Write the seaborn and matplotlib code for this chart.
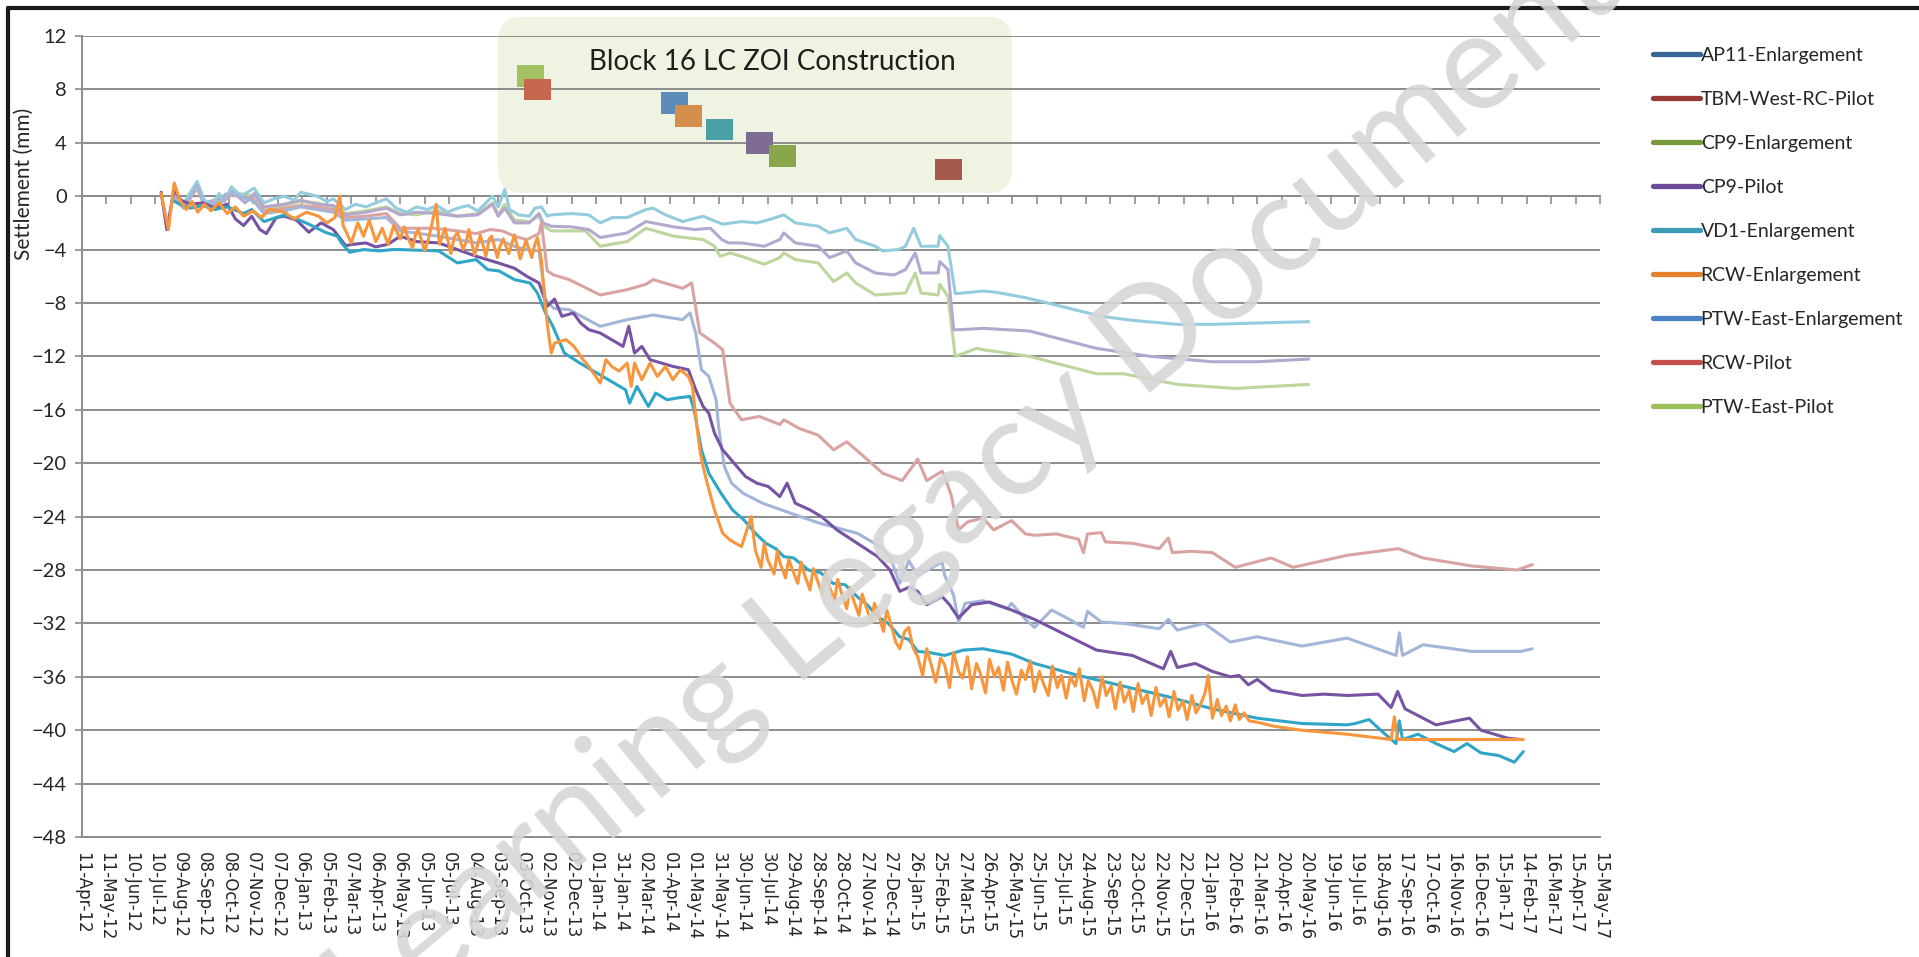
import matplotlib
matplotlib.use("Agg")
import matplotlib.pyplot as plt
import matplotlib.dates as mdates
from matplotlib.lines import Line2D
from matplotlib.patches import FancyBboxPatch
import pandas as pd
import seaborn as sns

# first and last date of the chart's date axis
AXIS_START = pd.Timestamp("2012-04-11")
AXIS_END = pd.Timestamp("2017-05-15")

# survey readings: (days after 11-Apr-12, settlement in mm)
lt_cyan = [(113, 0.2), (125, -0.5), (141, 1.1), (150, -0.3), (160, -0.6), (168, 0.2), (175, -0.4), (183, 0.7),
           (195, 0.0), (211, 0.6), (223, -0.5), (235, -0.2), (248, 0.0), (260, -0.3), (268, 0.3), (288, 0.0),
           (300, -0.4), (308, -0.2), (323, -1.0), (335, -0.6), (348, -0.8), (360, -0.5), (373, -0.2), (385, -0.9),
           (398, -1.2), (410, -0.8), (423, -1.0), (435, -0.7), (448, -1.2), (460, -0.9), (473, -0.7), (485, -1.1),
           (495, -0.5), (503, 0.0), (510, -0.8), (518, 0.5), (524, -1.0), (535, -1.4), (548, -1.5), (555, -0.9),
           (563, -0.8), (570, -1.5), (575, -1.4), (600, -1.3), (621, -1.4), (635, -2.0), (650, -1.6), (668, -1.6),
           (691, -1.0), (700, -0.9), (715, -1.4), (736, -1.9), (761, -1.5), (785, -2.1), (808, -1.9), (827, -2.0),
           (845, -1.7), (860, -1.4), (874, -2.0), (902, -2.25), (916, -2.75), (937, -2.4), (948, -3.25), (972, -3.75),
           (981, -4.1), (1000, -4.0), (1009, -3.75), (1019, -2.4), (1028, -3.75), (1049, -3.75), (1051, -2.95),
           (1061, -3.75), (1070, -7.3), (1089, -7.2), (1104, -7.1), (1120, -7.2), (1156, -7.6), (1183, -8.0),
           (1249, -9.0), (1287, -9.3), (1342, -9.6), (1385, -9.6), (1440, -9.5), (1503, -9.4)]

lt_purple = [(113, 0.0), (125, -0.6), (141, 0.8), (150, -0.5), (168, -0.2), (183, 0.4), (200, -0.5), (211, 0.2),
             (223, -0.8), (248, -0.6), (268, -0.3), (288, -0.6), (308, -0.7), (323, -1.4), (348, -1.2), (373, -0.9),
             (390, -1.4), (410, -1.2), (435, -1.3), (460, -1.5), (485, -1.4), (503, -0.6), (510, -1.5), (518, -0.9),
             (530, -2.0), (548, -2.0), (560, -1.3), (565, -2.0), (575, -2.25), (600, -2.3), (621, -2.5), (635, -3.1),
             (668, -2.75), (691, -1.9), (725, -2.3), (751, -2.5), (770, -2.4), (784, -3.25), (792, -3.5), (808, -3.5),
             (836, -3.75), (855, -3.25), (860, -2.75), (874, -3.5), (902, -3.75), (916, -4.6), (937, -4.1),
             (948, -5.0), (972, -5.75), (995, -5.9), (1009, -5.5), (1021, -4.25), (1028, -5.75), (1049, -5.75),
             (1051, -4.9), (1061, -5.5), (1068, -10.0), (1076, -10.0), (1104, -9.9), (1161, -10.1), (1243, -11.4),
             (1309, -12.0), (1385, -12.4), (1440, -12.4), (1503, -12.2)]

lt_green = [(113, -0.1), (125, -0.8), (141, 0.7), (150, -0.6), (168, -0.4), (183, 0.3), (211, 0.0), (223, -0.9),
            (248, -0.7), (268, -0.4), (288, -0.5), (308, -0.8), (323, -1.3), (348, -1.1), (373, -0.8), (390, -1.3),
            (410, -1.4), (435, -1.1), (460, -1.5), (485, -1.3), (503, -0.5), (510, -1.4), (518, -0.6), (530, -1.8),
            (548, -1.9), (560, -1.5), (565, -2.2), (575, -2.6), (617, -2.6), (635, -3.75), (668, -3.4), (691, -2.4),
            (725, -3.0), (761, -3.25), (775, -3.75), (782, -4.5), (794, -4.25), (808, -4.5), (836, -5.1), (855, -4.6),
            (860, -4.25), (874, -4.75), (902, -5.0), (921, -6.4), (937, -5.75), (948, -6.5), (972, -7.4),
            (1009, -7.25), (1021, -5.75), (1028, -7.25), (1049, -7.4), (1051, -6.6), (1061, -7.5), (1070, -12.0),
            (1096, -11.4), (1104, -11.5), (1161, -12.0), (1243, -13.3), (1276, -13.3), (1342, -14.1), (1413, -14.4),
            (1503, -14.1)]

lt_red = [(113, -0.1), (125, -0.9), (141, 0.6), (150, -0.7), (168, -0.6), (183, 0.1), (211, -0.3), (223, -1.1),
          (248, -0.9), (268, -0.7), (288, -0.8), (308, -1.0), (323, -1.6), (348, -1.5), (373, -1.3), (390, -2.4),
          (430, -2.4), (460, -2.6), (483, -2.8), (500, -2.5), (515, -2.6), (530, -3.0), (545, -3.25), (560, -2.8),
          (563, -2.0), (567, -4.0), (570, -5.6), (578, -5.9), (597, -6.25), (635, -7.4), (668, -7.0), (691, -6.6),
          (700, -6.25), (736, -6.9), (747, -6.5), (757, -10.25), (775, -11.0), (785, -11.5), (794, -15.5),
          (808, -16.75), (830, -16.5), (855, -17.1), (860, -16.75), (879, -17.4), (902, -17.9), (921, -19.0),
          (937, -18.4), (958, -19.5), (981, -20.75), (1005, -21.3), (1024, -19.7), (1035, -21.3), (1054, -20.6),
          (1057, -21.0), (1065, -22.4), (1074, -25.0), (1085, -24.4), (1104, -24.1), (1117, -25.0), (1139, -24.3),
          (1156, -25.3), (1167, -25.4), (1194, -25.3), (1221, -25.7), (1227, -26.7), (1232, -25.3), (1249, -25.2),
          (1254, -25.9), (1287, -26.0), (1320, -26.4), (1331, -25.6), (1336, -26.7), (1358, -26.6), (1385, -26.7),
          (1413, -27.8), (1457, -27.1), (1484, -27.8), (1550, -26.9), (1613, -26.4), (1643, -27.1), (1703, -27.7),
          (1758, -28.0), (1777, -27.6)]

lt_blue = [(113, -0.2), (125, -0.9), (141, 0.8), (150, -0.6), (168, -0.5), (183, 0.2), (211, -0.4), (223, -1.3),
           (248, -1.1), (268, -0.8), (288, -1.0), (308, -1.2), (323, -1.8), (348, -1.7), (373, -1.6), (390, -2.6),
           (437, -3.0), (483, -3.5), (510, -3.25), (530, -3.75), (545, -4.0), (560, -4.1), (568, -7.75),
           (578, -8.4), (597, -8.5), (635, -9.75), (668, -9.25), (700, -8.9), (736, -9.25), (745, -8.75),
           (752, -10.25), (759, -13.0), (768, -13.5), (777, -15.25), (780, -17.25), (787, -20.25), (796, -21.5),
           (810, -22.25), (834, -23.0), (857, -23.5), (880, -24.0), (904, -24.5), (950, -25.25), (978, -26.25),
           (990, -27.0), (1002, -29.0), (1013, -27.3), (1024, -28.4), (1054, -27.4), (1057, -28.4), (1068, -29.9),
           (1074, -31.9), (1082, -30.5), (1104, -30.3), (1134, -30.9), (1139, -30.5), (1156, -31.7), (1167, -32.3),
           (1188, -31.0), (1210, -31.7), (1227, -32.3), (1232, -31.1), (1249, -31.9), (1276, -32.0), (1320, -32.4),
           (1331, -31.7), (1342, -32.5), (1375, -32.0), (1407, -33.4), (1440, -33.0), (1495, -33.7), (1550, -33.1),
           (1610, -34.4), (1614, -32.7), (1618, -34.4), (1643, -33.6), (1703, -34.1), (1763, -34.1), (1777, -33.9)]

cp9_pilot = [(97, 0.3), (104, -2.5), (113, 0.5), (121, -0.3), (133, -0.6), (148, -0.5), (163, -0.9), (178, -0.6),
             (188, -1.7), (198, -2.2), (208, -1.5), (218, -2.5), (226, -2.8), (238, -1.6), (248, -1.5), (263, -1.8),
             (278, -2.7), (293, -2.0), (308, -2.5), (323, -3.7), (333, -3.6), (348, -3.5), (360, -3.8), (375, -3.6),
             (390, -3.0), (410, -3.4), (437, -3.5), (460, -4.0), (483, -4.5), (510, -5.0), (530, -5.4), (545, -6.0),
             (560, -6.5), (570, -8.25), (579, -7.7), (588, -9.0), (602, -8.75), (611, -9.5), (621, -10.0),
             (635, -10.25), (649, -10.75), (663, -11.25), (670, -9.75), (677, -11.75), (686, -11.25), (696, -12.25),
             (710, -12.5), (724, -12.75), (743, -13.0), (752, -14.5), (761, -15.75), (768, -16.25), (775, -17.75),
             (785, -19.0), (799, -20.0), (813, -21.0), (827, -21.5), (841, -21.75), (855, -22.5), (864, -21.5),
             (874, -23.0), (892, -23.5), (906, -24.0), (925, -25.0), (950, -26.0), (975, -27.0), (990, -28.0),
             (1002, -29.6), (1013, -29.3), (1024, -29.6), (1035, -30.6), (1054, -30.0), (1063, -30.6), (1074, -31.6),
             (1090, -30.6), (1112, -30.4), (1139, -31.0), (1167, -31.7), (1243, -34.0), (1287, -34.4), (1325, -35.4),
             (1334, -34.1), (1342, -35.3), (1364, -35.0), (1385, -35.6), (1407, -36.0), (1418, -35.9), (1429, -36.6),
             (1440, -36.2), (1457, -37.0), (1495, -37.4), (1522, -37.3), (1550, -37.4), (1588, -37.3), (1604, -38.3),
             (1612, -37.1), (1621, -38.4), (1659, -39.6), (1700, -39.1), (1714, -40.0), (1747, -40.6), (1763, -40.7)]

vd1_enl = [(110, -0.3), (120, -0.6), (133, -0.9), (148, -0.7), (163, -1.0), (178, -0.8), (198, -1.3), (208, -1.0),
           (223, -1.9), (238, -1.6), (248, -1.4), (263, -1.7), (278, -2.1), (298, -2.7), (313, -3.0), (318, -3.5),
           (328, -4.2), (345, -4.0), (365, -4.1), (380, -4.0), (390, -4.0), (437, -4.1), (460, -5.0), (483, -4.75),
           (497, -5.5), (511, -5.6), (530, -6.25), (549, -6.5), (558, -7.25), (568, -8.75), (577, -9.75),
           (591, -11.75), (610, -12.5), (624, -13.0), (638, -13.5), (652, -14.0), (666, -14.5), (671, -15.5),
           (680, -14.25), (694, -15.75), (703, -14.75), (717, -15.25), (731, -15.1), (745, -15.0), (750, -16.0),
           (759, -19.0), (768, -20.75), (783, -22.25), (797, -23.5), (811, -24.25), (825, -25.25), (838, -26.0),
           (850, -26.4), (860, -27.0), (872, -27.1), (890, -28.0), (905, -28.2), (920, -29.0), (935, -29.1),
           (950, -30.0), (962, -30.6), (975, -31.5), (988, -32.0), (1002, -33.0), (1013, -33.2), (1024, -34.1),
           (1040, -34.2), (1057, -34.4), (1080, -34.0), (1104, -33.9), (1139, -34.3), (1167, -35.0), (1221, -35.9),
           (1276, -36.7), (1331, -37.5), (1385, -38.4), (1440, -39.1), (1495, -39.5), (1550, -39.6), (1560, -39.5),
           (1577, -39.2), (1593, -40.1), (1610, -41.0), (1614, -39.3), (1618, -40.7), (1637, -40.3), (1659, -41.0),
           (1681, -41.6), (1697, -41.0), (1714, -41.7), (1736, -41.9), (1755, -42.4), (1766, -41.6)]

rcw_enl = [(97, 0.2), (106, -2.5), (113, 1.0), (120, -0.3), (128, -1.0), (135, -0.4), (142, -1.2), (150, -0.6),
           (158, -1.1), (168, -0.5), (178, -1.3), (188, -0.8), (198, -1.5), (210, -1.1), (220, -1.6), (230, -1.0),
           (248, -1.2), (260, -1.7), (275, -1.2), (290, -1.5), (300, -2.0), (310, -1.6), (316, 0.0), (320, -2.2),
           (330, -3.5), (338, -2.0), (345, -3.0), (352, -1.8), (360, -3.4), (368, -2.4), (375, -3.6), (382, -2.2),
           (390, -3.2), (395, -2.3), (398, -2.9), (405, -3.9), (409, -2.8), (412, -2.5), (420, -4.1), (424, -3.3),
           (428, -2.3), (434, -0.6), (438, -3.6), (442, -2.9), (445, -2.4), (452, -4.3), (456, -3.1), (460, -2.7),
           (467, -4.0), (471, -3.4), (474, -2.5), (481, -4.4), (485, -3.6), (488, -2.9), (495, -4.5), (499, -3.2),
           (502, -3.0), (509, -4.6), (512, -3.8), (516, -3.2), (523, -4.3), (527, -3.5), (530, -2.9), (537, -4.7),
           (541, -3.9), (544, -3.3), (551, -4.6), (555, -3.6), (558, -3.1), (563, -4.8), (567, -7.75),
           (571, -10.0), (575, -11.75), (579, -11.0), (593, -10.75), (602, -11.2), (607, -11.6), (612, -12.1),
           (621, -12.75), (635, -14.0), (642, -12.25), (649, -12.75), (658, -13.1), (668, -12.5), (673, -14.25),
           (677, -12.5), (686, -13.75), (696, -12.5), (705, -13.5), (715, -12.75), (724, -13.75), (733, -13.0),
           (743, -13.5), (748, -14.25), (752, -16.5), (757, -19.0), (761, -20.25), (766, -21.5), (775, -23.5),
           (785, -25.25), (794, -25.75), (808, -26.25), (820, -24.0), (825, -26.5), (832, -27.8), (836, -26.0),
           (840, -27.2), (848, -28.3), (852, -26.6), (855, -27.4), (862, -28.6), (866, -27.2), (870, -27.9),
           (877, -29.0), (881, -27.4), (885, -28.3), (892, -29.5), (896, -27.9), (900, -28.6), (907, -29.8),
           (911, -28.2), (915, -29.1), (922, -30.3), (926, -28.7), (930, -29.6), (937, -30.9), (941, -29.3),
           (945, -30.2), (952, -31.4), (956, -29.8), (960, -30.6), (967, -31.9), (971, -30.5), (975, -31.2),
           (982, -32.6), (986, -31.0), (990, -31.8), (997, -33.4), (1002, -33.9), (1008, -32.6), (1013, -32.3),
           (1018, -33.8), (1024, -34.5), (1030, -35.9), (1035, -33.9), (1041, -35.2), (1046, -36.4), (1052, -34.6),
           (1057, -35.1), (1063, -36.8), (1068, -34.2), (1074, -35.6), (1079, -36.1), (1085, -34.5), (1090, -36.9),
           (1096, -35.0), (1101, -35.8), (1107, -37.2), (1112, -34.7), (1118, -36.0), (1123, -35.3), (1129, -37.0),
           (1134, -34.9), (1140, -36.4), (1145, -37.3), (1151, -35.5), (1156, -36.2), (1162, -34.8), (1167, -37.1),
           (1173, -35.6), (1178, -36.5), (1184, -37.4), (1189, -35.2), (1195, -36.8), (1200, -35.9), (1206, -37.6),
           (1211, -36.0), (1217, -36.7), (1222, -35.4), (1228, -37.8), (1233, -36.3), (1239, -37.1), (1244, -38.3),
           (1250, -36.0), (1255, -37.4), (1261, -36.7), (1266, -38.4), (1272, -36.4), (1277, -37.9), (1283, -37.0),
           (1288, -38.6), (1294, -36.5), (1299, -38.0), (1305, -37.3), (1310, -38.9), (1316, -36.8), (1321, -38.2),
           (1327, -37.6), (1332, -39.0), (1338, -37.1), (1343, -38.5), (1349, -37.8), (1354, -39.2), (1360, -37.4),
           (1365, -38.7), (1371, -38.0), (1376, -37.2), (1380, -35.9), (1385, -39.1), (1391, -37.7), (1396, -38.9),
           (1402, -38.2), (1407, -39.3), (1413, -38.1), (1418, -39.2), (1424, -38.7), (1430, -39.3), (1440, -39.4),
           (1460, -39.7), (1494, -40.0), (1550, -40.3), (1604, -40.7), (1608, -39.0), (1612, -40.7), (1660, -40.7),
           (1714, -40.7), (1766, -40.7)]

# plotted order (later ones on top) and their colours
plot_names = ["lt_green", "lt_purple", "lt_cyan", "lt_red", "lt_blue", "CP9-Pilot", "VD1-Enlargement", "RCW-Enlargement"]
plot_points = [lt_green, lt_purple, lt_cyan, lt_red, lt_blue, cp9_pilot, vd1_enl, rcw_enl]
plot_colors = ["#bcd69b", "#b5a8cf", "#93cddd", "#d9a3a1", "#a3b6da", "#7653a3", "#2fa6c7", "#f7963c"]

# construction start markers inside the annotation box
event_labels = ["PTW-East-Pilot", "RCW-Pilot", "PTW-East-Enlargement", "RCW-Enlargement",
                "VD1-Enlargement", "CP9-Pilot", "CP9-Enlargement", "TBM-West-RC-Pilot"]
event_dates = ["2013-10-13", "2013-10-21", "2014-04-07", "2014-04-24",
               "2014-06-01", "2014-07-20", "2014-08-17", "2015-03-09"]
event_levels = [9, 8, 7, 6, 5, 4, 3, 2]
event_colors = ["#a2c160", "#c6664f", "#5b8cba", "#d58f4a", "#4b9fa6", "#7d6b91", "#89a64d", "#a35b4c"]

# legend entries
legend_labels = ["AP11-Enlargement", "TBM-West-RC-Pilot", "CP9-Enlargement", "CP9-Pilot", "VD1-Enlargement",
                 "RCW-Enlargement", "PTW-East-Enlargement", "RCW-Pilot", "PTW-East-Pilot"]
legend_colors = ["#386496", "#963a38", "#779a3c", "#6a4b96", "#3a9cb6", "#e5812d", "#4a83c4", "#c4504c", "#9bbf59"]

rows = []
for name, pts in zip(plot_names, plot_points):
    for d, v in pts:
        rows.append({"series": name, "date": AXIS_START + pd.Timedelta(days=d), "mm": v})
df = pd.DataFrame(rows)

ev = pd.DataFrame({"label": event_labels, "date": pd.to_datetime(event_dates), "level": event_levels})

sns.set_theme(style="white")
plt.rcParams["font.family"] = ["Lato", "DejaVu Sans"]

GRID = "#8c8c8c"
fig = plt.figure(figsize=(19.19, 9.57), dpi=100)
ax = fig.add_axes([0.0427, 0.1254, 0.7911, 0.837])

# annotation panel behind everything
panel = FancyBboxPatch((0.274, 0.804), 0.3386, 0.2197, transform=ax.transAxes,
                       boxstyle="round,pad=0,rounding_size=0.016", mutation_aspect=1518 / 801,
                       facecolor="#eff4e2", edgecolor="none", zorder=0.3, clip_on=False)
ax.add_patch(panel)
ax.text(0.4545, 0.968, "Block 16 LC ZOI Construction", transform=ax.transAxes,
        ha="center", va="center", fontsize=20, color="#1e1e1e")

sns.lineplot(data=df, x="date", y="mm", hue="series", hue_order=plot_names,
             palette=dict(zip(plot_names, plot_colors)), estimator=None,
             linewidth=2.2, legend=False, ax=ax)

rect = [(-1.25, -1), (1.25, -1), (1.25, 1), (-1.25, 1), (-1.25, -1)]
sns.scatterplot(data=ev, x="date", y="level", hue="label", hue_order=event_labels,
                palette=dict(zip(event_labels, event_colors)), marker=rect, s=380,
                linewidth=0, legend=False, ax=ax, zorder=3)

ticks = mdates.date2num(pd.date_range(AXIS_START, AXIS_END, freq="30D"))
ax.set_xlim(AXIS_START, AXIS_END)
ax.set_ylim(-48, 12)
ax.set_yticks(range(-48, 13, 4))
ax.set_xticks(ticks)
ax.xaxis.set_major_formatter(mdates.DateFormatter("%d-%b-%y"))
ax.set_xlabel("")
ax.set_ylabel("Settlement (mm)", fontsize=15)
ax.yaxis.set_label_coords(-0.0316, 0.815)

ax.set_axisbelow(True)
ax.yaxis.grid(True, color=GRID, linewidth=1.4)
ax.xaxis.grid(False)
for s in ["top", "right"]:
    ax.spines[s].set_visible(False)
for s in ["left", "bottom"]:
    ax.spines[s].set_color(GRID)
    ax.spines[s].set_linewidth(1.4)

ax.tick_params(axis="x", length=0, pad=11, labelsize=12, labelrotation=270)
for lab in ax.get_xticklabels():
    lab.set_fontfamily("DejaVu Sans")
ax.tick_params(axis="y", length=5, width=1.2, color=GRID, pad=6, labelsize=14.5, left=True)

# tick marks sit on the zero line, labels stay at the bottom
ymin, ymax = ax.get_ylim()
zero_axis = ax.secondary_xaxis((0 - ymin) / (ymax - ymin))
zero_axis.set_alignment("bottom")
zero_axis.set_xticks(ticks)
zero_axis.tick_params(axis="x", direction="out", length=6, width=1.2, color=GRID,
                      labelbottom=False, labeltop=False)
zero_axis.spines["bottom"].set_color(GRID)
zero_axis.spines["bottom"].set_linewidth(1.4)

handles = [Line2D([], [], color=c, linewidth=3.8) for c in legend_colors]
fig.legend(handles, legend_labels, loc="upper left", bbox_to_anchor=(1653 / 1919, 1 - 47 / 957),
           frameon=False, fontsize=14, handlelength=2.4, handletextpad=0.05, labelspacing=1.39,
           borderaxespad=0, borderpad=0)

# frame of the original slide
fig.add_artist(Line2D([0.0042, 0.0042], [0, 0.9916], transform=fig.transFigure, color="#1a1a1a", linewidth=3))
fig.add_artist(Line2D([0.0042, 1.0], [0.9916, 0.9916], transform=fig.transFigure, color="#1a1a1a", linewidth=3))

fig.text(975 / 1919, 1 - 490 / 957, "Learning Legacy Document", rotation=39.7, rotation_mode="anchor",
         ha="center", va="center", fontsize=98, fontweight="normal", color="#d6d6d6", alpha=0.9, zorder=10)

fig.savefig("out.png", dpi=100)
